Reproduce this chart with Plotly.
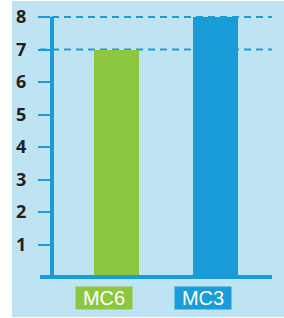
import plotly.graph_objects as go

categories = ["MC6", "MC3"]
values = [7, 8]
bar_colors = ["#8dc63f", "#1a9cd8"]
y_ticks = [1, 2, 3, 4, 5, 6, 7, 8]
grid_levels = [7, 8]
y_max = 8

BLUE = "#1a9cd8"
PANEL = "#bee3f3"

fig = go.Figure()
fig.add_trace(go.Bar(x=categories, y=values, marker=dict(color=bar_colors, line=dict(width=0)),
                     width=0.4545, hoverinfo="skip"))

W, H = 284, 318
L, R, T, B = 54, 12, 17, 41
pw = W - L - R
ph = H - T - B
x_left = -(116.5 - L) / 99
x_right = 1 + (272 - 215.5) / 99

shapes = [
    dict(type="rect", xref="paper", yref="paper",
         x0=(12 - L) / pw, x1=(W - L) / pw, y0=-(B - 1) / ph, y1=1 + (T - 1) / ph,
         fillcolor=PANEL, line=dict(width=0), layer="below"),
]
for g in grid_levels:
    shapes.append(dict(type="line", xref="paper", yref="paper", x0=(40 - L) / pw, x1=1,
                       y0=g / y_max, y1=g / y_max,
                       line=dict(color=BLUE, width=2, dash="7px,5px"), layer="below"))
shapes.append(dict(type="line", xref="paper", yref="paper", x0=(40 - L) / pw, x1=1, y0=0, y1=0,
                   line=dict(color=BLUE, width=4), layer="above"))

annotations = []
for c, col in zip(categories, bar_colors):
    annotations.append(dict(x=c, xref="x", y=-21 / ph, yref="paper", text=c,
                            showarrow=False, xshift=-13, yanchor="middle",
                            bgcolor=col, width=54, height=20,
                            font=dict(family="Liberation Sans", size=20, color="white")))

fig.update_layout(
    width=W, height=H,
    margin=dict(l=L, r=R, t=T, b=B, pad=0),
    paper_bgcolor="white", plot_bgcolor="rgba(0,0,0,0)",
    showlegend=False, bargap=0,
    shapes=shapes, annotations=annotations,
    xaxis=dict(range=[x_left, x_right], showticklabels=False, showgrid=False, zeroline=False,
               showline=False, ticks="", automargin=False),
    yaxis=dict(range=[0, y_max], tickvals=y_ticks, showgrid=False, zeroline=False,
               showline=True, linecolor=BLUE, linewidth=4, automargin=False,
               ticks="outside", ticklen=12, tickwidth=2, tickcolor=BLUE,
               ticklabelstandoff=8,
               tickfont=dict(family="Open Sans", size=18, color="#231f20", weight="bold")),
)
fig.write_html("out.html", config={"displayModeBar": False, "staticPlot": True},
               post_script="document.body.style.margin='0';document.body.style.overflow='hidden';")
